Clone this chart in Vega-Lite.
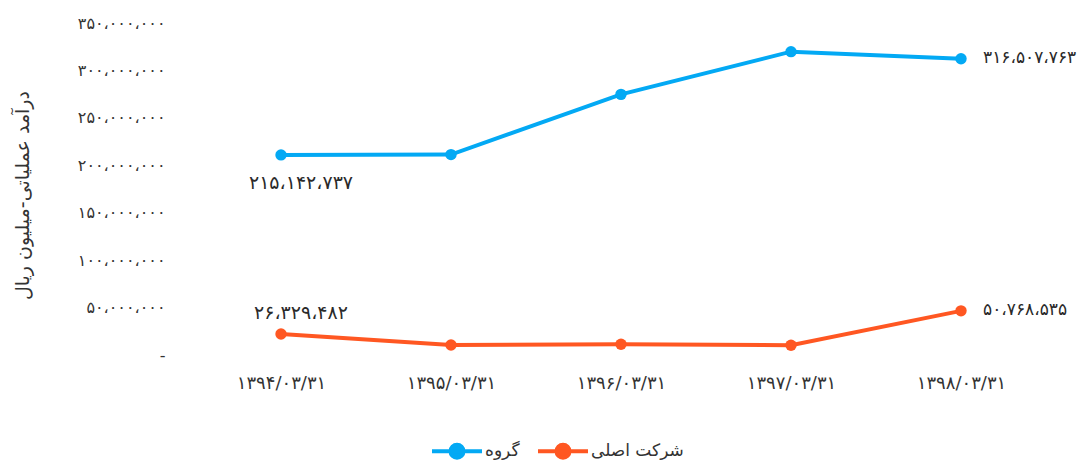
{
  "$schema": "https://vega.github.io/schema/vega-lite/v6.json",
  "width": 850,
  "height": 332,
  "autosize": "none",
  "padding": {"left": 196, "top": 27, "right": 41, "bottom": 109},
  "background": "white",
  "config": {
    "view": {"stroke": null},
    "font": "DejaVu Sans"
  },
  "data": {
    "values": [
      {"date": "۱۳۹۴/۰۳/۳۱", "series": "گروه", "value": 215142737},
      {"date": "۱۳۹۵/۰۳/۳۱", "series": "گروه", "value": 215500000},
      {"date": "۱۳۹۶/۰۳/۳۱", "series": "گروه", "value": 279000000},
      {"date": "۱۳۹۷/۰۳/۳۱", "series": "گروه", "value": 324000000},
      {"date": "۱۳۹۸/۰۳/۳۱", "series": "گروه", "value": 316507763},
      {"date": "۱۳۹۴/۰۳/۳۱", "series": "شرکت اصلی", "value": 26329482},
      {"date": "۱۳۹۵/۰۳/۳۱", "series": "شرکت اصلی", "value": 14700000},
      {"date": "۱۳۹۶/۰۳/۳۱", "series": "شرکت اصلی", "value": 15500000},
      {"date": "۱۳۹۷/۰۳/۳۱", "series": "شرکت اصلی", "value": 14500000},
      {"date": "۱۳۹۸/۰۳/۳۱", "series": "شرکت اصلی", "value": 50768535}
    ]
  },
  "encoding": {
    "x": {
      "field": "date",
      "type": "ordinal",
      "sort": null,
      "axis": {"title": null, "labelAngle": 0, "domain": false, "ticks": false, "labelPadding": 15, "labelFontSize": 18, "labelColor": "#333333"}
    },
    "y": {
      "field": "value",
      "type": "quantitative",
      "scale": {"domain": [0, 350000000]},
      "axis": {
        "values": [0, 50000000, 100000000, 150000000, 200000000, 250000000, 300000000, 350000000],
        "title": "درآمد عملیاتی-میلیون ریال",
        "titleFontSize": 19,
        "titleFontWeight": "normal",
        "titleColor": "#333333",
        "titleX": -164,
        "titleY": 168,
        "grid": false,
        "domain": false,
        "ticks": false,
        "labelPadding": 31,
        "labelOffset": -4,
        "labelFontSize": 16,
        "labelColor": "#333333",
        "labelExpr": "datum.value == 0 ? '-' : replace(replace(replace(replace(replace(replace(replace(replace(replace(replace(replace(format(datum.value, ','), regexp('0','g'),'۰'), regexp('1','g'),'۱'), regexp('2','g'),'۲'), regexp('3','g'),'۳'), regexp('4','g'),'۴'), regexp('5','g'),'۵'), regexp('6','g'),'۶'), regexp('7','g'),'۷'), regexp('8','g'),'۸'), regexp('9','g'),'۹'), regexp(',','g'),'،')"
      }
    },
    "color": {
      "field": "series",
      "type": "nominal",
      "scale": {"domain": ["گروه", "شرکت اصلی"], "range": ["#03a9f4", "#ff5722"]},
      "legend": {
        "title": null,
        "orient": "none",
        "legendX": 234,
        "legendY": 397,
        "direction": "horizontal",
        "symbolType": "M-1,0L1,0M0.26,0A0.26,0.26,0,1,1,-0.26,0A0.26,0.26,0,1,1,0.26,0",
        "symbolSize": 2500,
        "symbolStrokeWidth": 4,
        "labelFontSize": 17,
        "labelColor": "#333333",
        "columnPadding": 10,
        "labelOffset": 1
      }
    }
  },
  "layer": [
    {
      "mark": {"type": "line", "strokeWidth": 4, "point": {"size": 130, "filled": true}}
    },
    {
      "transform": [{"filter": "datum.date == '۱۳۹۴/۰۳/۳۱' && datum.series == 'گروه'"}],
      "mark": {
        "type": "text", "dx": 20, "dy": 28, "fontSize": 19,
        "text": {"expr": "replace(replace(replace(replace(replace(replace(replace(replace(replace(replace(replace(format(datum.value, ','), regexp('0','g'),'۰'), regexp('1','g'),'۱'), regexp('2','g'),'۲'), regexp('3','g'),'۳'), regexp('4','g'),'۴'), regexp('5','g'),'۵'), regexp('6','g'),'۶'), regexp('7','g'),'۷'), regexp('8','g'),'۸'), regexp('9','g'),'۹'), regexp(',','g'),'،')"}
      },
      "encoding": {"color": {"value": "#2a2a2a"}}
    },
    {
      "transform": [{"filter": "datum.date == '۱۳۹۴/۰۳/۳۱' && datum.series == 'شرکت اصلی'"}],
      "mark": {
        "type": "text", "dx": 20, "dy": -21, "fontSize": 19,
        "text": {"expr": "replace(replace(replace(replace(replace(replace(replace(replace(replace(replace(replace(format(datum.value, ','), regexp('0','g'),'۰'), regexp('1','g'),'۱'), regexp('2','g'),'۲'), regexp('3','g'),'۳'), regexp('4','g'),'۴'), regexp('5','g'),'۵'), regexp('6','g'),'۶'), regexp('7','g'),'۷'), regexp('8','g'),'۸'), regexp('9','g'),'۹'), regexp(',','g'),'،')"}
      },
      "encoding": {"color": {"value": "#2a2a2a"}}
    },
    {
      "transform": [{"filter": "datum.date == '۱۳۹۸/۰۳/۳۱'"}],
      "mark": {
        "type": "text", "align": "left", "dx": 22, "dy": -1, "fontSize": 17,
        "text": {"expr": "replace(replace(replace(replace(replace(replace(replace(replace(replace(replace(replace(format(datum.value, ','), regexp('0','g'),'۰'), regexp('1','g'),'۱'), regexp('2','g'),'۲'), regexp('3','g'),'۳'), regexp('4','g'),'۴'), regexp('5','g'),'۵'), regexp('6','g'),'۶'), regexp('7','g'),'۷'), regexp('8','g'),'۸'), regexp('9','g'),'۹'), regexp(',','g'),'،')"}
      },
      "encoding": {"color": {"value": "#2a2a2a"}}
    }
  ]
}
